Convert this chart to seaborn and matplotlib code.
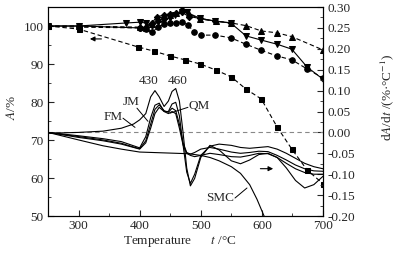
import matplotlib
matplotlib.use('Agg')
import matplotlib.pyplot as plt
import seaborn as sns
from matplotlib.ticker import MultipleLocator, FormatStrFormatter

# mass retention A/% (left axis)
t_sq = [250, 300, 397, 423, 450, 474, 499, 525, 550, 574, 599, 625, 649, 674, 700]
a_sq = [100, 99.2, 94.5, 93.4, 92.1, 91.1, 90.0, 88.4, 86.6, 83.4, 80.8, 73.4, 67.6, 62.1, 58.5]

t_ci = [250, 300, 400, 410, 420, 430, 440, 450, 460, 470, 479, 489, 500, 523, 549, 574, 599, 625, 649, 674, 700]
a_ci = [100, 99.7, 99.5, 99.2, 98.4, 99.7, 100.5, 100.8, 100.8, 101, 100.3, 98.4, 97.6, 97.6, 96.9,
        95.2, 93.6, 92.1, 91.1, 88.7, 86.3]

t_up = [250, 300, 400, 410, 420, 430, 440, 450, 460, 470, 480, 499, 525, 550, 574, 599, 625, 649, 700]
a_up = [100, 100, 99.7, 99.5, 100.5, 101.8, 102.6, 102.9, 103.4, 104.7, 103.2, 101.8, 101.3, 100.8,
        100.1, 98.7, 98.2, 97.2, 93.7]

t_dn = [250, 300, 378, 400, 410, 420, 430, 440, 450, 458, 470, 477, 499, 523, 549, 574, 599, 625, 649, 674, 700]
a_dn = [100, 100, 100.8, 101, 100.8, 100, 101, 101.3, 102.2, 102.9, 103.6, 103.6, 102, 101.3, 100.8,
        97.4, 96.3, 95.2, 93.9, 89.2, 86.0]

t_di = [250, 300, 400, 410, 420, 428, 440, 450, 460, 470, 480, 499, 523, 549]
a_di = [100, 100, 99.5, 99.7, 100.8, 102.4, 102.9, 103.2, 103.4, 103.6, 102.5, 102, 101.3, 100.8]

# rate dA/dt (right axis)
t_rate = [250, 300, 340, 370, 390, 400, 410, 418, 425, 432, 440, 447, 453, 459, 465, 471, 477,
          483, 490, 500, 515, 530, 550, 565, 580, 595, 610, 625, 640, 655, 670, 685, 700]
r_fm = [-0.002, 0.0, 0.003, 0.01, 0.02, 0.03, 0.045, 0.085, 0.100, 0.085, 0.062, 0.075, 0.098, 0.105,
        0.075, 0.0, -0.085, -0.128, -0.11, -0.06, -0.031, -0.042, -0.068, -0.075, -0.066, -0.053,
        -0.05, -0.06, -0.085, -0.115, -0.133, -0.125, -0.105]
r_jm = [0.0, -0.008, -0.015, -0.022, -0.032, -0.037, -0.01, 0.035, 0.065, 0.07, 0.05, 0.05, 0.068,
        0.072, 0.04, -0.03, -0.095, -0.122, -0.1, -0.055, -0.033, -0.028, -0.031, -0.036, -0.038,
        -0.036, -0.034, -0.04, -0.05, -0.062, -0.074, -0.082, -0.087]
r_qm = [0.0, -0.01, -0.018, -0.026, -0.035, -0.039, -0.02, 0.02, 0.055, 0.066, 0.052, 0.048, 0.058,
        0.052, 0.02, -0.025, -0.048, -0.052, -0.048, -0.04, -0.036, -0.04, -0.047, -0.05, -0.048,
        -0.045, -0.046, -0.055, -0.066, -0.078, -0.087, -0.092, -0.093]
r_other = [0.0, -0.012, -0.02, -0.028, -0.036, -0.04, -0.025, 0.01, 0.045, 0.06, 0.05, 0.045, 0.05,
           0.045, 0.01, -0.03, -0.05, -0.055, -0.058, -0.055, -0.05, -0.053, -0.058, -0.059, -0.055,
           -0.05, -0.051, -0.06, -0.074, -0.087, -0.096, -0.1, -0.1]
t_smc = [250, 300, 340, 370, 400, 440, 480, 500, 515, 530, 550, 565, 580, 592, 605]
r_smc = [0.0, -0.018, -0.032, -0.04, -0.047, -0.049, -0.051, -0.055, -0.06, -0.068, -0.082,
         -0.098, -0.125, -0.16, -0.205]

sns.set_style('ticks')
plt.rcParams['font.family'] = ['Liberation Serif', 'DejaVu Serif']
plt.rcParams['mathtext.fontset'] = 'stix'
plt.rcParams['font.size'] = 9.5
plt.rcParams['xtick.direction'] = 'in'
plt.rcParams['ytick.direction'] = 'in'

fig = plt.figure(figsize=(3.94, 2.54), dpi=100)
ax = fig.add_axes([0.1218, 0.1496, 0.698, 0.8228])
ax2 = ax.twinx()

lw = 0.8
ms = 3.6
dash = (0, (4, 2.5))
sns.lineplot(x=t_sq, y=a_sq, ax=ax, color='k', lw=lw, linestyle=dash, marker='s', markersize=ms,
             markeredgecolor='k')
sns.lineplot(x=t_ci, y=a_ci, ax=ax, color='k', lw=lw, linestyle=dash, marker='o', markersize=ms + 0.4,
             markeredgecolor='k')
sns.lineplot(x=t_up, y=a_up, ax=ax, color='k', lw=lw, linestyle=dash, marker='^', markersize=ms + 0.6,
             markeredgecolor='k')
sns.lineplot(x=t_dn, y=a_dn, ax=ax, color='k', lw=lw, linestyle='-', marker='v', markersize=ms + 0.6,
             markeredgecolor='k')
sns.lineplot(x=t_di, y=a_di, ax=ax, color='k', lw=lw, linestyle='-', marker='D', markersize=ms - 0.4,
             markeredgecolor='k')

ax2.axhline(0, color='#888888', lw=0.8, ls=(0, (4, 3)))
for r in [r_fm, r_jm, r_qm, r_other]:
    sns.lineplot(x=t_rate, y=r, ax=ax2, color='k', lw=lw)
sns.lineplot(x=t_smc, y=r_smc, ax=ax2, color='k', lw=lw)

ax.set_xlim(250, 700)
ax.set_ylim(50, 105)
ax2.set_ylim(-0.2, 0.3)
ax.xaxis.set_major_locator(MultipleLocator(100))
ax.xaxis.set_minor_locator(MultipleLocator(50))
ax.set_yticks([50, 60, 70, 80, 90, 100])
ax.yaxis.set_minor_locator(MultipleLocator(5))
ax2.yaxis.set_major_locator(MultipleLocator(0.05))
ax2.yaxis.set_minor_locator(MultipleLocator(0.025))
ax2.yaxis.set_major_formatter(FormatStrFormatter('%.2f'))
for a in (ax, ax2):
    a.tick_params(which='major', length=4, width=0.8, pad=3, labelsize=9.5)
    a.tick_params(which='minor', length=2, width=0.6)
    for s in a.spines.values():
        s.set_linewidth(0.8)
        s.set_color('k')
ax.tick_params(axis='y', which='both', right=False)

ax.set_xlabel('Temperature      $t$ /°C')
ax.xaxis.set_label_coords(0.48, -0.085)
ax.set_ylabel('$A$/%')
ax.yaxis.set_label_coords(-0.11, 0.52)
ax2.set_ylabel('d$A$/d$t$ /(%·°C$^{-1}$)')
ax2.yaxis.set_label_coords(1.2, 0.57)

# annotations
ax2.text(414, 0.123, '430', ha='center', va='center')
ax2.text(463, 0.123, '460', ha='center', va='center')
ax2.text(386, 0.072, 'JM', ha='center', va='center')
ax2.text(356, 0.036, 'FM', ha='center', va='center')
ax2.text(497, 0.064, 'QM', ha='center', va='center')
ax2.text(531, -0.157, 'SMC', ha='center', va='center')
ax2.plot([395.6, 413.6], [0.058, 0.0265], color='k', lw=0.7)
ax2.plot([372.7, 392.4], [0.034, 0.012], color='k', lw=0.7)
ax2.plot([479, 449.6], [0.060, 0.046], color='k', lw=0.7)
ax2.plot([556, 575.6], [-0.157, -0.133], color='k', lw=0.7)

ax.annotate('', xy=(314, 96.6), xytext=(342, 96.6),
            arrowprops=dict(arrowstyle='-|>', color='k', lw=0.8, mutation_scale=7))
ax2.annotate('', xy=(623, -0.0868), xytext=(593, -0.0868),
             arrowprops=dict(arrowstyle='-|>', color='k', lw=0.8, mutation_scale=7))

fig.savefig('out.png', dpi=100)
